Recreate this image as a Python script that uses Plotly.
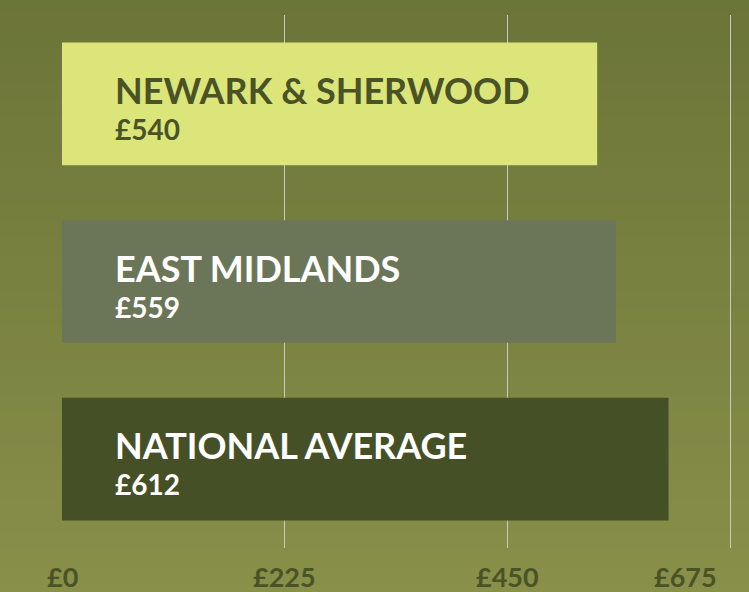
"""Średni koszt - wykres słupkowy poziomy."""

import plotly.graph_objects as go

# dane
regions = ["NEWARK & SHERWOOD", "EAST MIDLANDS", "NATIONAL AVERAGE"]
amounts = [540, 559, 612]
tick_vals = [0, 225, 450, 675]
tick_text = ["£0", "£225", "£450", "£675"]

bar_colors = ["#dce57a", "#6b7658", "#465027"]
text_colors = ["#4a5325", "#ffffff", "#ffffff"]
FONT = "Lato"

fig = go.Figure(
    go.Bar(
        x=amounts,
        y=regions,
        orientation="h",
        marker_color=bar_colors,
        marker_line_width=0,
        width=0.69,
        hoverinfo="skip",
    )
)

# etykiety w słupkach
for name, val, col in zip(regions, amounts, text_colors):
    fig.add_annotation(
        x=51, y=name, text=f"<b>{name}</b>", showarrow=False,
        xanchor="left", yanchor="middle", yshift=14,
        font=dict(family=FONT, size=36, color=col),
    )
    fig.add_annotation(
        x=51, y=name, text=f"<b>£{val}</b>", showarrow=False,
        xanchor="left", yanchor="middle", yshift=-25,
        font=dict(family=FONT, size=28, color=col),
    )

# etykiety osi X (ostatnia przesunięta do środka, jak w oryginale)
for i, (tv, tt) in enumerate(zip(tick_vals, tick_text)):
    last = i == len(tick_vals) - 1
    fig.add_annotation(
        x=tv, y=0, xref="x", yref="paper", text=f"<b>{tt}</b>",
        showarrow=False, xanchor="right" if last else "center",
        yanchor="middle", yshift=-28, xshift=-12 if last else 0,
        font=dict(family=FONT, size=27, color="#4a5325"),
    )

# tło - gradient z pasków
top = (0x6a, 0x73, 0x37)
bottom = (0x8b, 0x92, 0x4b)
n = 40
shapes = []
for i in range(n):
    t = i / (n - 1)
    c = tuple(round(a + (b - a) * t) for a, b in zip(top, bottom))
    shapes.append(dict(
        type="rect", xref="paper", yref="paper", layer="below",
        x0=-0.2, x1=1.2, y0=1.1 - (i + 1) * 1.3 / n, y1=1.1 - i * 1.3 / n + 0.002,
        fillcolor="rgb(%d,%d,%d)" % c, line_width=0,
    ))

fig.update_layout(
    width=749,
    height=592,
    margin=dict(l=62, r=0, t=15, b=44),
    paper_bgcolor="#7a8240",
    plot_bgcolor="rgba(0,0,0,0)",
    showlegend=False,
    shapes=shapes,
    xaxis=dict(
        range=[0, 693.2],
        tickvals=tick_vals,
        showticklabels=False,
        showgrid=True,
        gridcolor="#c9c9c0",
        gridwidth=1,
        zeroline=False,
        showline=False,
        ticks="",
    ),
    yaxis=dict(
        range=[2.5, -0.5],
        showticklabels=False,
        showgrid=False,
        zeroline=False,
    ),
)

fig.write_html(
    "out.html",
    config={"displayModeBar": False, "staticPlot": True},
    post_script="document.body.style.margin='0';document.body.style.overflow='hidden';",
)
